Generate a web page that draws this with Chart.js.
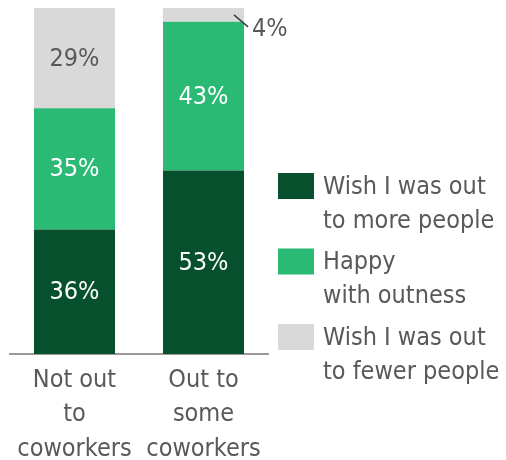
<!DOCTYPE html>
<html>
<head>
<meta charset="utf-8">
<script src="https://cdn.jsdelivr.net/npm/chart.js@4/dist/chart.umd.min.js"></script>
<style>
  html, body { margin: 0; padding: 0; background: #ffffff; }
  canvas { display: block; }
</style>
</head>
<body>
<canvas id="chart" width="506" height="460"></canvas>
<script>
// Categories (multi-line tick labels)
const categories = [["Not out", "to", "coworkers"], ["Out to", "some", "coworkers"]];

// Series, bottom to top of each stack
const seriesNames = ["Wish I was out to more people", "Happy with outness", "Wish I was out to fewer people"];
const legendLines = [["Wish I was out", "to more people"], ["Happy", "with outness"], ["Wish I was out", "to fewer people"]];
const wishMore = [36, 53];
const happy = [35, 43];
const wishFewer = [29, 4];

const colors = ["#06502e", "#2bba74", "#d9d9d9"];
const labelColors = ["#ffffff", "#ffffff", "#595959"];
const textColor = "#595959";
const fontFamily = "'DejaVu Sans Condensed', 'DejaVu Sans', sans-serif";
const fontSize = 25;

// Value labels inside each segment; small segments get an outside label with a leader line
const valueLabels = {
  id: "valueLabels",
  afterDatasetsDraw(chart) {
    const ctx = chart.ctx;
    ctx.save();
    ctx.font = fontSize + "px " + fontFamily;
    ctx.textBaseline = "middle";
    chart.data.datasets.forEach((ds, i) => {
      const meta = chart.getDatasetMeta(i);
      meta.data.forEach((bar, j) => {
        const v = ds.data[j];
        const cy = (bar.y + bar.base) / 2;
        const right = bar.x + bar.width / 2;
        if (v >= 10) {
          ctx.fillStyle = labelColors[i];
          ctx.textAlign = "center";
          ctx.fillText(v + "%", bar.x, cy + 1);
        } else {
          ctx.strokeStyle = "#404040";
          ctx.lineWidth = 1.5;
          ctx.beginPath();
          ctx.moveTo(right - 10, cy);
          ctx.lineTo(right + 4, cy + 12);
          ctx.stroke();
          ctx.fillStyle = textColor;
          ctx.textAlign = "left";
          ctx.fillText(v + "%", right + 8, cy + 15);
        }
      });
    });
    ctx.restore();
  }
};

// Legend drawn at the right with two-line labels
const sideLegend = {
  id: "sideLegend",
  afterDraw(chart) {
    const ctx = chart.ctx;
    ctx.save();
    ctx.font = fontSize + "px " + fontFamily;
    ctx.textBaseline = "middle";
    ctx.textAlign = "left";
    const x0 = 278, y0 = 173, pitch = 75.5;
    chart.data.datasets.forEach((ds, i) => {
      const top = y0 + i * pitch;
      ctx.fillStyle = ds.backgroundColor;
      ctx.fillRect(x0, top, 36, 26);
      ctx.fillStyle = textColor;
      legendLines[i].forEach((line, k) => {
        ctx.fillText(line, x0 + 45, top + 14 + k * 34);
      });
    });
    ctx.restore();
  }
};

new Chart(document.getElementById("chart"), {
  type: "bar",
  data: {
    labels: categories,
    datasets: [
      { label: seriesNames[0], data: wishMore, backgroundColor: colors[0] },
      { label: seriesNames[1], data: happy, backgroundColor: colors[1] },
      { label: seriesNames[2], data: wishFewer, backgroundColor: colors[2] }
    ]
  },
  options: {
    responsive: false,
    animation: false,
    layout: { padding: { left: 10, right: 238, top: 8, bottom: 0 } },
    datasets: { bar: { barPercentage: 1, categoryPercentage: 0.628, borderWidth: 0 } },
    plugins: {
      legend: { display: false },
      tooltip: { enabled: false }
    },
    scales: {
      x: {
        stacked: true,
        grid: { display: false },
        border: { display: true, color: "#999999", width: 2 },
        ticks: {
          color: textColor,
          font: { family: fontFamily, size: fontSize, lineHeight: 1.38 },
          padding: 1,
          maxRotation: 0,
          autoSkip: false
        },
        afterFit(scale) { scale.height = 106; }
      },
      y: {
        stacked: true,
        min: 0,
        max: 100,
        display: false
      }
    }
  },
  plugins: [valueLabels, sideLegend]
});
</script>
</body>
</html>
